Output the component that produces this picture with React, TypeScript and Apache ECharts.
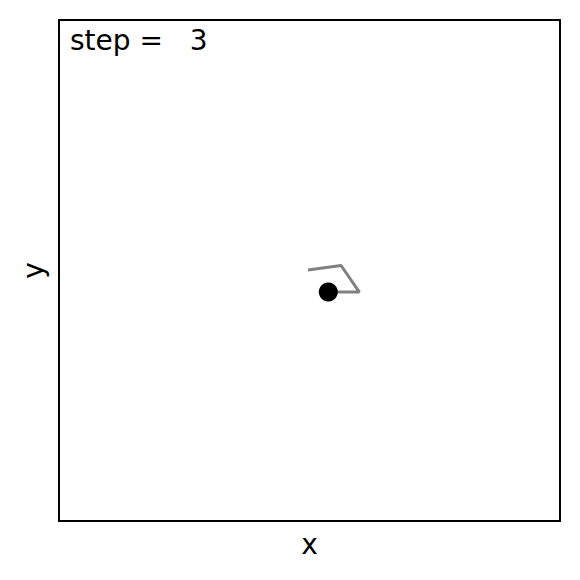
import React, { useEffect, useRef } from "react";
import * as echarts from "echarts";

const walkX = [-0.06, 1.26, 1.99, 0.75];
const walkY = [0.02, 0.2, -0.86, -0.86];
const stepLabel = "step =   3";
const axisMin = -10;
const axisMax = 10;

export default function App() {
  const ref = useRef<HTMLDivElement>(null);
  useEffect(() => {
    const chart = echarts.init(ref.current!, null, { renderer: "svg" });
    const pts = walkX.map((x, i) => [x, walkY[i]]);
    const last = pts[pts.length - 1];
    chart.setOption({
      animation: false,
      backgroundColor: "#fff",
      textStyle: { fontFamily: "DejaVu Sans" },
      grid: {
        left: 59,
        top: 20,
        width: 501,
        height: 501,
        show: true,
        borderColor: "#000",
        borderWidth: 2,
        backgroundColor: "transparent",
      },
      xAxis: {
        type: "value",
        min: axisMin,
        max: axisMax,
        axisLine: { show: false },
        axisTick: { show: false },
        axisLabel: { show: false },
        splitLine: { show: false },
        name: "x",
        nameLocation: "middle",
        nameGap: 9,
        nameTextStyle: { fontSize: 28, color: "#000", fontFamily: "DejaVu Sans" },
      },
      yAxis: {
        type: "value",
        min: axisMin,
        max: axisMax,
        axisLine: { show: false },
        axisTick: { show: false },
        axisLabel: { show: false },
        splitLine: { show: false },
        name: "y",
        nameLocation: "middle",
        nameGap: 12,
        nameTextStyle: { fontSize: 28, color: "#000", fontFamily: "DejaVu Sans" },
      },
      graphic: [
        {
          type: "text",
          left: 70,
          top: 26,
          style: {
            text: stepLabel,
            fontSize: 28,
            fontFamily: "DejaVu Sans",
            fill: "#000",
          },
        },
      ],
      series: [
        {
          type: "line",
          data: pts,
          symbol: "none",
          lineStyle: { color: "#808080", width: 3 },
          z: 2,
        },
        {
          type: "scatter",
          data: [last],
          symbolSize: 19,
          itemStyle: { color: "#000", opacity: 1 },
          z: 3,
        },
      ],
    });
    return () => chart.dispose();
  }, []);
  return (
    <div
      ref={ref}
      style={{ position: "absolute", left: 0, top: 0, width: 580, height: 580 }}
    />
  );
}
